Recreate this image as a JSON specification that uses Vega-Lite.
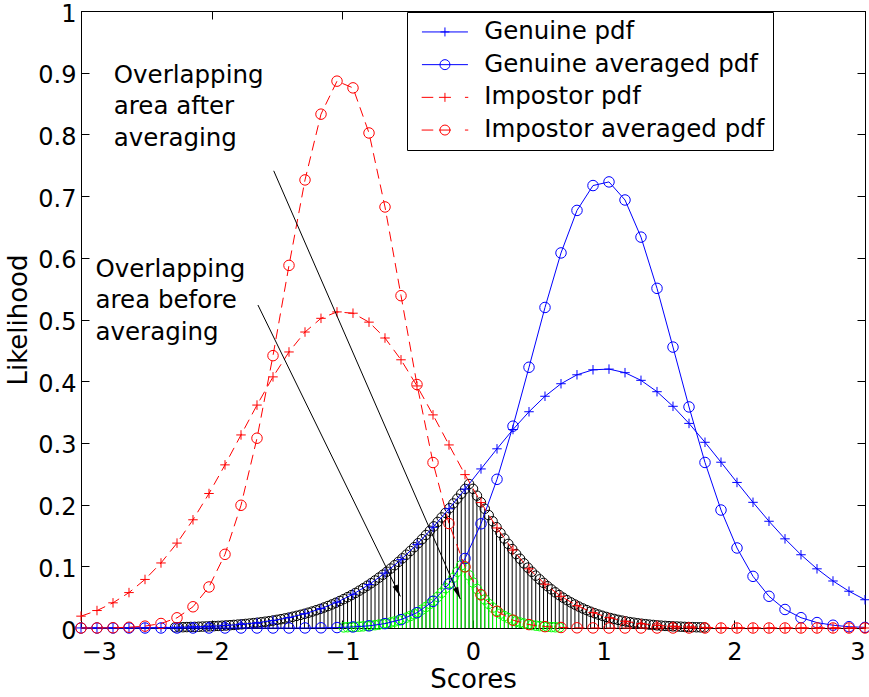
{
  "$schema": "https://vega.github.io/schema/vega-lite/v6.json",
  "width": 784,
  "height": 617,
  "autosize": {"type": "none"},
  "padding": {"left": 81, "top": 11, "right": 4, "bottom": 69},
  "background": "white",
  "config": {
    "view": {"stroke": "black", "strokeWidth": 1},
    "font": "DejaVu Sans",
    "axis": {
      "labelFont": "DejaVu Sans", "labelFontSize": 24, "labelColor": "black",
      "titleFont": "DejaVu Sans", "titleFontSize": 26, "titleFontWeight": "normal", "titleColor": "black",
      "tickColor": "black", "domainColor": "black", "tickSize": -8, "tickWidth": 1, "domainWidth": 1, "grid": false
    }
  },
  "datasets": {
    "curves": [
      {"x": -3, "g": 0.0001, "ga": 0, "ip": 0.0192, "ia": 0},
      {"x": -2.8776, "g": 0.0001, "ga": 0, "ip": 0.0283, "ia": 0.0001},
      {"x": -2.7551, "g": 0.0002, "ga": 0, "ip": 0.0408, "ia": 0.0004},
      {"x": -2.6327, "g": 0.0003, "ga": 0, "ip": 0.0574, "ia": 0.0012},
      {"x": -2.5102, "g": 0.0005, "ga": 0, "ip": 0.0787, "ia": 0.003},
      {"x": -2.3878, "g": 0.0007, "ga": 0, "ip": 0.1054, "ia": 0.0073},
      {"x": -2.2653, "g": 0.0011, "ga": 0, "ip": 0.1376, "ia": 0.0165},
      {"x": -2.1429, "g": 0.0018, "ga": 0, "ip": 0.1754, "ia": 0.0344},
      {"x": -2.0204, "g": 0.0027, "ga": 0, "ip": 0.218, "ia": 0.0665},
      {"x": -1.898, "g": 0.004, "ga": 0, "ip": 0.2644, "ia": 0.1194},
      {"x": -1.7755, "g": 0.0059, "ga": 0, "ip": 0.3129, "ia": 0.1989},
      {"x": -1.6531, "g": 0.0085, "ga": 0, "ip": 0.3613, "ia": 0.3076},
      {"x": -1.5306, "g": 0.0121, "ga": 0, "ip": 0.407, "ia": 0.4414},
      {"x": -1.4082, "g": 0.0169, "ga": 0, "ip": 0.4474, "ia": 0.5877},
      {"x": -1.2857, "g": 0.0232, "ga": 0.0001, "ip": 0.4797, "ia": 0.7262},
      {"x": -1.1633, "g": 0.0314, "ga": 0.0003, "ip": 0.5019, "ia": 0.8328},
      {"x": -1.0408, "g": 0.0418, "ga": 0.0007, "ip": 0.5123, "ia": 0.8863},
      {"x": -0.9184, "g": 0.0547, "ga": 0.0017, "ip": 0.5102, "ia": 0.8754},
      {"x": -0.7959, "g": 0.0704, "ga": 0.0035, "ip": 0.4957, "ia": 0.8023},
      {"x": -0.6735, "g": 0.089, "ga": 0.0071, "ip": 0.47, "ia": 0.6824},
      {"x": -0.551, "g": 0.1108, "ga": 0.0136, "ip": 0.4347, "ia": 0.5386},
      {"x": -0.4286, "g": 0.1356, "ga": 0.0248, "ip": 0.3923, "ia": 0.3946},
      {"x": -0.3061, "g": 0.1632, "ga": 0.0432, "ip": 0.3454, "ia": 0.2682},
      {"x": -0.1837, "g": 0.1933, "ga": 0.0715, "ip": 0.2967, "ia": 0.1693},
      {"x": -0.0612, "g": 0.2251, "ga": 0.1127, "ip": 0.2486, "ia": 0.0991},
      {"x": 0.0612, "g": 0.2578, "ga": 0.1689, "ip": 0.2033, "ia": 0.0538},
      {"x": 0.1837, "g": 0.2904, "ga": 0.241, "ip": 0.1622, "ia": 0.0271},
      {"x": 0.3061, "g": 0.3217, "ga": 0.3271, "ip": 0.1263, "ia": 0.0127},
      {"x": 0.4286, "g": 0.3505, "ga": 0.4226, "ip": 0.0959, "ia": 0.0055},
      {"x": 0.551, "g": 0.3756, "ga": 0.5195, "ip": 0.071, "ia": 0.0022},
      {"x": 0.6735, "g": 0.3959, "ga": 0.6079, "ip": 0.0514, "ia": 0.0008},
      {"x": 0.7959, "g": 0.4104, "ga": 0.6768, "ip": 0.0362, "ia": 0.0003},
      {"x": 0.9184, "g": 0.4185, "ga": 0.7171, "ip": 0.0249, "ia": 0.0001},
      {"x": 1.0408, "g": 0.4196, "ga": 0.723, "ip": 0.0167, "ia": 0},
      {"x": 1.1633, "g": 0.4138, "ga": 0.6937, "ip": 0.011, "ia": 0},
      {"x": 1.2857, "g": 0.4014, "ga": 0.6335, "ip": 0.007, "ia": 0},
      {"x": 1.4082, "g": 0.383, "ga": 0.5505, "ip": 0.0044, "ia": 0},
      {"x": 1.5306, "g": 0.3593, "ga": 0.4553, "ip": 0.0027, "ia": 0},
      {"x": 1.6531, "g": 0.3316, "ga": 0.3583, "ip": 0.0016, "ia": 0},
      {"x": 1.7755, "g": 0.301, "ga": 0.2683, "ip": 0.0009, "ia": 0},
      {"x": 1.898, "g": 0.2687, "ga": 0.1912, "ip": 0.0005, "ia": 0},
      {"x": 2.0204, "g": 0.2359, "ga": 0.1297, "ip": 0.0003, "ia": 0},
      {"x": 2.1429, "g": 0.2037, "ga": 0.0837, "ip": 0.0002, "ia": 0},
      {"x": 2.2653, "g": 0.173, "ga": 0.0514, "ip": 0.0001, "ia": 0},
      {"x": 2.3878, "g": 0.1445, "ga": 0.03, "ip": 0, "ia": 0},
      {"x": 2.5102, "g": 0.1187, "ga": 0.0167, "ip": 0, "ia": 0},
      {"x": 2.6327, "g": 0.0959, "ga": 0.0088, "ip": 0, "ia": 0},
      {"x": 2.7551, "g": 0.0762, "ga": 0.0045, "ip": 0, "ia": 0},
      {"x": 2.8776, "g": 0.0596, "ga": 0.0021, "ip": 0, "ia": 0},
      {"x": 3, "g": 0.0458, "ga": 0.001, "ip": 0, "ia": 0}
    ],
    "before": [
      {"x": -2.28, "y": 0.0011}, {"x": -2.25, "y": 0.0012}, {"x": -2.22, "y": 0.0013}, {"x": -2.19, "y": 0.0015},
      {"x": -2.16, "y": 0.0017}, {"x": -2.13, "y": 0.0018}, {"x": -2.1, "y": 0.002}, {"x": -2.07, "y": 0.0023},
      {"x": -2.04, "y": 0.0025}, {"x": -2.01, "y": 0.0028}, {"x": -1.98, "y": 0.0031}, {"x": -1.95, "y": 0.0034},
      {"x": -1.92, "y": 0.0037}, {"x": -1.89, "y": 0.0041}, {"x": -1.86, "y": 0.0045}, {"x": -1.83, "y": 0.005},
      {"x": -1.8, "y": 0.0055}, {"x": -1.77, "y": 0.006}, {"x": -1.74, "y": 0.0066}, {"x": -1.71, "y": 0.0072},
      {"x": -1.68, "y": 0.0079}, {"x": -1.65, "y": 0.0086}, {"x": -1.62, "y": 0.0094}, {"x": -1.59, "y": 0.0102},
      {"x": -1.56, "y": 0.0111}, {"x": -1.53, "y": 0.0121}, {"x": -1.5, "y": 0.0132}, {"x": -1.47, "y": 0.0143},
      {"x": -1.44, "y": 0.0155}, {"x": -1.41, "y": 0.0168}, {"x": -1.38, "y": 0.0182}, {"x": -1.35, "y": 0.0197},
      {"x": -1.32, "y": 0.0213}, {"x": -1.29, "y": 0.023}, {"x": -1.26, "y": 0.0248}, {"x": -1.23, "y": 0.0267},
      {"x": -1.2, "y": 0.0288}, {"x": -1.17, "y": 0.0309}, {"x": -1.14, "y": 0.0332}, {"x": -1.11, "y": 0.0356},
      {"x": -1.08, "y": 0.0382}, {"x": -1.05, "y": 0.0409}, {"x": -1.02, "y": 0.0438}, {"x": -0.99, "y": 0.0468},
      {"x": -0.96, "y": 0.05}, {"x": -0.93, "y": 0.0533}, {"x": -0.9, "y": 0.0568}, {"x": -0.87, "y": 0.0605},
      {"x": -0.84, "y": 0.0644}, {"x": -0.81, "y": 0.0684}, {"x": -0.78, "y": 0.0726}, {"x": -0.75, "y": 0.077},
      {"x": -0.72, "y": 0.0816}, {"x": -0.69, "y": 0.0863}, {"x": -0.66, "y": 0.0912}, {"x": -0.63, "y": 0.0964},
      {"x": -0.6, "y": 0.1017}, {"x": -0.57, "y": 0.1072}, {"x": -0.54, "y": 0.1129}, {"x": -0.51, "y": 0.1188},
      {"x": -0.48, "y": 0.1248}, {"x": -0.45, "y": 0.131}, {"x": -0.42, "y": 0.1374}, {"x": -0.39, "y": 0.144},
      {"x": -0.36, "y": 0.1507}, {"x": -0.33, "y": 0.1576}, {"x": -0.3, "y": 0.1647}, {"x": -0.27, "y": 0.1719},
      {"x": -0.24, "y": 0.1792}, {"x": -0.21, "y": 0.1866}, {"x": -0.18, "y": 0.1942}, {"x": -0.15, "y": 0.2019},
      {"x": -0.12, "y": 0.2096}, {"x": -0.09, "y": 0.2175}, {"x": -0.06, "y": 0.2254}, {"x": -0.03, "y": 0.2333},
      {"x": 0, "y": 0.2255}, {"x": 0.03, "y": 0.2145}, {"x": 0.06, "y": 0.2037}, {"x": 0.09, "y": 0.1932},
      {"x": 0.12, "y": 0.183}, {"x": 0.15, "y": 0.173}, {"x": 0.18, "y": 0.1634}, {"x": 0.21, "y": 0.154},
      {"x": 0.24, "y": 0.145}, {"x": 0.27, "y": 0.1363}, {"x": 0.3, "y": 0.1279}, {"x": 0.33, "y": 0.1199},
      {"x": 0.36, "y": 0.1122}, {"x": 0.39, "y": 0.1048}, {"x": 0.42, "y": 0.0978}, {"x": 0.45, "y": 0.0911},
      {"x": 0.48, "y": 0.0848}, {"x": 0.51, "y": 0.0788}, {"x": 0.54, "y": 0.0731}, {"x": 0.57, "y": 0.0677},
      {"x": 0.6, "y": 0.0626}, {"x": 0.63, "y": 0.0578}, {"x": 0.66, "y": 0.0533}, {"x": 0.69, "y": 0.0491},
      {"x": 0.72, "y": 0.0451}, {"x": 0.75, "y": 0.0414}, {"x": 0.78, "y": 0.038}, {"x": 0.81, "y": 0.0347},
      {"x": 0.84, "y": 0.0317}, {"x": 0.87, "y": 0.029}, {"x": 0.9, "y": 0.0264}, {"x": 0.93, "y": 0.024},
      {"x": 0.96, "y": 0.0218}, {"x": 0.99, "y": 0.0198}, {"x": 1.02, "y": 0.0179}, {"x": 1.05, "y": 0.0162},
      {"x": 1.08, "y": 0.0147}, {"x": 1.11, "y": 0.0132}, {"x": 1.14, "y": 0.0119}, {"x": 1.17, "y": 0.0107},
      {"x": 1.2, "y": 0.0096}, {"x": 1.23, "y": 0.0086}, {"x": 1.26, "y": 0.0077}, {"x": 1.29, "y": 0.0069},
      {"x": 1.32, "y": 0.0062}, {"x": 1.35, "y": 0.0055}, {"x": 1.38, "y": 0.0049}, {"x": 1.41, "y": 0.0043},
      {"x": 1.44, "y": 0.0038}, {"x": 1.47, "y": 0.0034}, {"x": 1.5, "y": 0.003}, {"x": 1.53, "y": 0.0027},
      {"x": 1.56, "y": 0.0024}, {"x": 1.59, "y": 0.0021}, {"x": 1.62, "y": 0.0018}, {"x": 1.65, "y": 0.0016},
      {"x": 1.68, "y": 0.0014}, {"x": 1.71, "y": 0.0012}, {"x": 1.74, "y": 0.0011}, {"x": 1.77, "y": 0.0009}
    ],
    "after": [
      {"x": -0.99, "y": 0.001}, {"x": -0.96, "y": 0.0013}, {"x": -0.93, "y": 0.0015}, {"x": -0.9, "y": 0.0019},
      {"x": -0.87, "y": 0.0022}, {"x": -0.84, "y": 0.0027}, {"x": -0.81, "y": 0.0032}, {"x": -0.78, "y": 0.0039},
      {"x": -0.75, "y": 0.0046}, {"x": -0.72, "y": 0.0055}, {"x": -0.69, "y": 0.0065}, {"x": -0.66, "y": 0.0076},
      {"x": -0.63, "y": 0.009}, {"x": -0.6, "y": 0.0105}, {"x": -0.57, "y": 0.0123}, {"x": -0.54, "y": 0.0144},
      {"x": -0.51, "y": 0.0167}, {"x": -0.48, "y": 0.0194}, {"x": -0.45, "y": 0.0224}, {"x": -0.42, "y": 0.0259},
      {"x": -0.39, "y": 0.0297}, {"x": -0.36, "y": 0.0341}, {"x": -0.33, "y": 0.039}, {"x": -0.3, "y": 0.0444},
      {"x": -0.27, "y": 0.0504}, {"x": -0.24, "y": 0.0571}, {"x": -0.21, "y": 0.0645}, {"x": -0.18, "y": 0.0726},
      {"x": -0.15, "y": 0.0815}, {"x": -0.12, "y": 0.0912}, {"x": -0.09, "y": 0.1017}, {"x": -0.06, "y": 0.0985},
      {"x": -0.03, "y": 0.0854}, {"x": 0, "y": 0.0737}, {"x": 0.03, "y": 0.0633}, {"x": 0.06, "y": 0.0542},
      {"x": 0.09, "y": 0.0461}, {"x": 0.12, "y": 0.0391}, {"x": 0.15, "y": 0.033}, {"x": 0.18, "y": 0.0277},
      {"x": 0.21, "y": 0.0232}, {"x": 0.24, "y": 0.0193}, {"x": 0.27, "y": 0.016}, {"x": 0.3, "y": 0.0132},
      {"x": 0.33, "y": 0.0109}, {"x": 0.36, "y": 0.0089}, {"x": 0.39, "y": 0.0072}, {"x": 0.42, "y": 0.0059},
      {"x": 0.45, "y": 0.0047}, {"x": 0.48, "y": 0.0038}, {"x": 0.51, "y": 0.003}, {"x": 0.54, "y": 0.0024},
      {"x": 0.57, "y": 0.0019}, {"x": 0.6, "y": 0.0015}, {"x": 0.63, "y": 0.0012}, {"x": 0.66, "y": 0.0009}
    ],
    "arrows": [
      {"id": 1, "x0": -1.525, "y0": 0.741, "x1": -0.097, "y1": 0.047},
      {"id": 2, "x0": -1.646, "y0": 0.5235, "x1": -0.556, "y1": 0.0512}
    ],
    "notes": [
      {"x": -2.749, "y": 0.8837, "label": "Overlapping\narea after\naveraging"},
      {"x": -2.889, "y": 0.5693, "label": "Overlapping\narea before\naveraging"}
    ],
    "names": [
      {"series": "Genuine pdf"}, {"series": "Genuine averaged pdf"}, {"series": "Impostor pdf"}, {"series": "Impostor averaged pdf"}
    ]
  },
  "layer": [
    {
      "encoding": {
        "x": {"field": "x", "type": "quantitative",
          "scale": {"domain": [-3, 3], "nice": false, "zero": false},
          "axis": {"orient": "bottom", "values": [-3, -2, -1, 0, 1, 2, 3], "title": "Scores", "labelPadding": 20, "titlePadding": 2}}
      },
      "layer": [
        {
          "data": {"name": "before"},
          "mark": {"type": "rule", "color": "black", "strokeWidth": 1},
          "encoding": {
            "y": {"field": "y", "type": "quantitative",
              "scale": {"domain": [0, 1], "nice": false, "zero": false},
              "axis": {"orient": "left", "values": [0, 0.1, 0.2, 0.3, 0.4, 0.5, 0.6, 0.7, 0.8, 0.9, 1], "format": "~g", "title": "Likelihood", "labelPadding": 13, "labelOffset": 3, "titlePadding": 6}},
            "y2": {"datum": 0}
          }
        },
        {
          "data": {"name": "before"},
          "mark": {"type": "point", "shape": "circle", "size": 90, "filled": false, "color": "black", "strokeWidth": 1, "opacity": 1},
          "encoding": {"y": {"field": "y", "type": "quantitative"}}
        },
        {
          "data": {"name": "after"},
          "mark": {"type": "rule", "color": "#00ff00", "strokeWidth": 1},
          "encoding": {"y": {"field": "y", "type": "quantitative"}, "y2": {"datum": 0}}
        },
        {
          "data": {"name": "after"},
          "mark": {"type": "point", "shape": "circle", "size": 90, "filled": false, "color": "#00ff00", "strokeWidth": 1, "opacity": 1},
          "encoding": {"y": {"field": "y", "type": "quantitative"}}
        },
        {
          "data": {"name": "curves"},
          "mark": {"type": "line", "color": "#0000ff", "strokeWidth": 1},
          "encoding": {"y": {"field": "g", "type": "quantitative"}}
        },
        {
          "data": {"name": "curves"},
          "mark": {"type": "point", "shape": "M-1,0L1,0M0,-1L0,1", "size": 90, "filled": false, "color": "#0000ff", "strokeWidth": 1, "opacity": 1},
          "encoding": {"y": {"field": "g", "type": "quantitative"}}
        },
        {
          "data": {"name": "curves"},
          "mark": {"type": "line", "color": "#0000ff", "strokeWidth": 1},
          "encoding": {"y": {"field": "ga", "type": "quantitative"}}
        },
        {
          "data": {"name": "curves"},
          "mark": {"type": "point", "shape": "circle", "size": 110, "filled": false, "color": "#0000ff", "strokeWidth": 1, "opacity": 1},
          "encoding": {"y": {"field": "ga", "type": "quantitative"}}
        },
        {
          "data": {"name": "curves"},
          "mark": {"type": "line", "color": "#ff0000", "strokeWidth": 1, "strokeDash": [10, 6]},
          "encoding": {"y": {"field": "ip", "type": "quantitative"}}
        },
        {
          "data": {"name": "curves"},
          "mark": {"type": "point", "shape": "M-1,0L1,0M0,-1L0,1", "size": 90, "filled": false, "color": "#ff0000", "strokeWidth": 1, "opacity": 1},
          "encoding": {"y": {"field": "ip", "type": "quantitative"}}
        },
        {
          "data": {"name": "curves"},
          "mark": {"type": "line", "color": "#ff0000", "strokeWidth": 1, "strokeDash": [10, 6]},
          "encoding": {"y": {"field": "ia", "type": "quantitative"}}
        },
        {
          "data": {"name": "curves"},
          "mark": {"type": "point", "shape": "circle", "size": 110, "filled": false, "color": "#ff0000", "strokeWidth": 1, "opacity": 1},
          "encoding": {"y": {"field": "ia", "type": "quantitative"}}
        },
        {
          "data": {"name": "arrows"},
          "mark": {"type": "rule", "color": "black", "strokeWidth": 1},
          "encoding": {
            "x": {"field": "x0", "type": "quantitative"},
            "y": {"field": "y0", "type": "quantitative"},
            "x2": {"field": "x1"},
            "y2": {"field": "y1"}
          }
        },
        {
          "data": {"name": "arrows"},
          "transform": [{"filter": "datum.id == 1"}],
          "mark": {"type": "point", "shape": "M0,0L-0.47,-2L0.47,-2Z", "size": 144, "filled": true, "color": "black", "opacity": 1, "angle": 336.5},
          "encoding": {"x": {"field": "x1", "type": "quantitative"}, "y": {"field": "y1", "type": "quantitative"}}
        },
        {
          "data": {"name": "arrows"},
          "transform": [{"filter": "datum.id == 2"}],
          "mark": {"type": "point", "shape": "M0,0L-0.47,-2L0.47,-2Z", "size": 144, "filled": true, "color": "black", "opacity": 1, "angle": 334},
          "encoding": {"x": {"field": "x1", "type": "quantitative"}, "y": {"field": "y1", "type": "quantitative"}}
        },
        {
          "data": {"name": "notes"},
          "mark": {"type": "text", "align": "left", "baseline": "alphabetic", "font": "DejaVu Sans", "fontSize": 24.5, "lineBreak": "\n", "lineHeight": 31.5, "color": "black"},
          "encoding": {"y": {"field": "y", "type": "quantitative"}, "text": {"field": "label"}}
        },
        {
          "data": {"name": "names"},
          "transform": [{"filter": "datum.series == 'none'"}],
          "mark": {"type": "point", "filled": false, "opacity": 1, "strokeWidth": 1},
          "encoding": {
            "color": {"field": "series", "type": "nominal",
              "scale": {"domain": ["Genuine pdf", "Genuine averaged pdf", "Impostor pdf", "Impostor averaged pdf"], "range": ["#0000ff", "#0000ff", "#ff0000", "#ff0000"]},
              "legend": {"orient": "none", "legendX": 326, "legendY": 1, "title": null, "strokeColor": "black", "fillColor": "white", "padding": 7.7,
                "labelFont": "DejaVu Sans", "labelFontSize": 24.5, "labelColor": "black", "labelLimit": 500, "labelOffset": 27,
                "symbolSize": 100, "symbolStrokeWidth": 1, "symbolOffset": 18, "rowPadding": 7.7}},
            "shape": {"field": "series", "type": "nominal",
              "scale": {"domain": ["Genuine pdf", "Genuine averaged pdf", "Impostor pdf", "Impostor averaged pdf"],
                "range": [
                  "M-4.6,0L4.6,0M-0.9,0L0.9,0M0,-0.9L0,0.9",
                  "M-4.6,0L4.6,0M1,0A1,1,0,1,1,-1,0A1,1,0,1,1,1,0",
                  "M-4.66,0L-2.34,0M-1.2,0L1.2,0M0,-0.9L0,0.9M4,0L4.66,0",
                  "M-4.66,0L-2.34,0M-1.2,0L1.2,0M1,0A1,1,0,1,1,-1,0A1,1,0,1,1,1,0M4,0L4.66,0"
                ]}}
          }
        }
      ]
    },
    {
      "data": {"values": [{"x": 0, "y": 0}]},
      "mark": {"type": "point", "opacity": 0},
      "encoding": {
        "x": {"field": "x", "type": "quantitative", "scale": {"domain": [-3, 3], "nice": false, "zero": false},
          "axis": {"orient": "top", "values": [-3, -2, -1, 0, 1, 2, 3], "labels": false, "title": null}},
        "y": {"field": "y", "type": "quantitative", "scale": {"domain": [0, 1], "nice": false, "zero": false},
          "axis": {"orient": "right", "values": [0, 0.1, 0.2, 0.3, 0.4, 0.5, 0.6, 0.7, 0.8, 0.9, 1], "labels": false, "title": null}}
      }
    }
  ],
  "resolve": {"axis": {"x": "independent", "y": "independent"}}
}
